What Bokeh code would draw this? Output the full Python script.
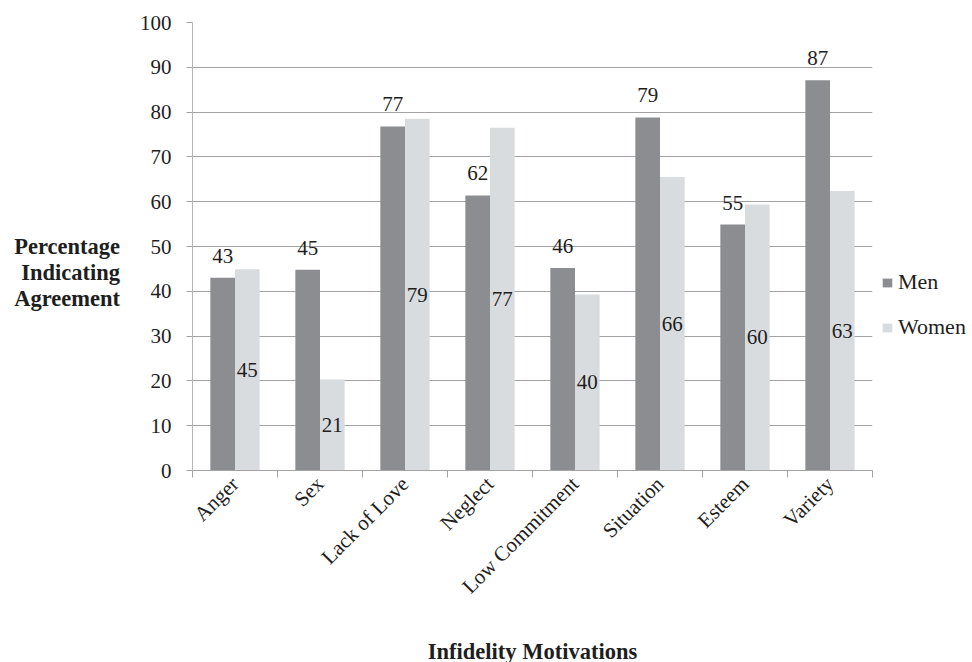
import math
from bokeh.plotting import figure
from bokeh.models import (ColumnDataSource, Range1d, FixedTicker, Legend, LegendItem)
from bokeh.transform import dodge
from bokeh.core.properties import value
from bokeh.embed import file_html
from bokeh.resources import INLINE

# ---- data ----
categories = ["Anger", "Sex", "Lack of Love", "Neglect", "Low Commitment",
              "Situation", "Esteem", "Variety"]
men = [43.0, 44.8, 76.8, 61.4, 45.2, 78.8, 54.9, 87.1]
women = [44.9, 20.3, 78.5, 76.5, 39.3, 65.5, 59.4, 62.4]
men_labels = ["43", "45", "77", "62", "46", "79", "55", "87"]
women_labels = ["45", "21", "79", "77", "40", "66", "60", "63"]
y_ticks = [0, 10, 20, 30, 40, 50, 60, 70, 80, 90, 100]

# ---- style ----
MEN_C = "#8b8d90"
WOMEN_C = "#d9dcdf"
TEXT_C = "#1e1e1e"
GRID_C = "#a3a3a3"
FONT = "Liberation Serif"

xpos = [i + 0.5 for i in range(len(categories))]
src = ColumnDataSource(dict(
    x=xpos, men=men, women=women,
    men_lab=men_labels, women_lab=women_labels,
    women_mid=[w / 2 for w in women],
))

p = figure(frame_width=680, frame_height=448,
           min_border_left=192, min_border_right=100,
           min_border_top=22, min_border_bottom=192,
           x_range=Range1d(0, len(categories)), y_range=Range1d(0, 100),
           output_backend="svg", toolbar_location=None)
p.outline_line_color = None
p.background_fill_color = "white"

r_men = p.vbar(x=dodge("x", -0.145), top="men", width=0.29, source=src,
               fill_color=MEN_C, line_color=None)
r_women = p.vbar(x=dodge("x", 0.145), top="women", width=0.29, source=src,
                 fill_color=WOMEN_C, line_color=None)

p.text(x=dodge("x", -0.145), y="men", text="men_lab", source=src,
       text_font=value(FONT), text_font_size="21px", text_color=TEXT_C,
       text_align="center", text_baseline="alphabetic", y_offset=-22)
p.text(x=dodge("x", 0.145), y="women_mid", text="women_lab", source=src,
       text_font=value(FONT), text_font_size="21px", text_color=TEXT_C,
       text_align="center", text_baseline="middle")

# y axis
yax = p.yaxis[0]
yax.ticker = FixedTicker(ticks=y_ticks)
yax.major_label_text_font = FONT
yax.major_label_text_font_size = "21px"
yax.major_label_text_color = TEXT_C
yax.axis_line_color = "#b5b5b5"
yax.major_tick_line_color = GRID_C
yax.major_tick_out = 6
yax.major_tick_in = 0
yax.minor_tick_line_color = None
yax.major_label_standoff = 15
yax.axis_label = "\n\nPercentage\nIndicating\nAgreement"
yax.axis_label_text_font = FONT
yax.axis_label_text_font_style = "bold"
yax.axis_label_text_font_size = "22.5px"
yax.axis_label_text_line_height = 1.04
yax.axis_label_text_color = TEXT_C
yax.axis_label_text_align = "center"
yax.axis_label_standoff = 17
try:
    yax.axis_label_orientation = "horizontal"
except Exception:
    pass

p.ygrid.grid_line_color = GRID_C
p.ygrid.grid_line_width = 1.2
p.xgrid.visible = False

# x axis
xax = p.xaxis[0]
xax.ticker = FixedTicker(ticks=xpos, minor_ticks=list(range(len(categories) + 1)))
xax.major_label_overrides = {x: c for x, c in zip(xpos, categories)}
xax.major_label_orientation = math.pi / 4
xax.major_label_text_font = FONT
xax.major_label_text_font_size = "21px"
xax.major_label_text_color = TEXT_C
xax.major_tick_line_color = None
xax.major_tick_out = 0
xax.major_tick_in = 0
xax.minor_tick_line_color = GRID_C
xax.minor_tick_out = 7
xax.minor_tick_in = 0
xax.major_label_standoff = 3
xax.axis_line_color = GRID_C
xax.axis_label = "Infidelity Motivations"
xax.axis_label_text_font = FONT
xax.axis_label_text_font_style = "bold"
xax.axis_label_text_font_size = "22.5px"
xax.axis_label_text_color = TEXT_C
xax.axis_label_standoff = 29

legend = Legend(items=[LegendItem(label="Men", renderers=[r_men]),
                       LegendItem(label="Women", renderers=[r_women])],
                location=(9, 130), orientation="vertical",
                label_text_font=FONT, label_text_font_size="22px",
                label_text_color=TEXT_C, glyph_width=12, glyph_height=11,
                label_standoff=5, label_height=24, spacing=19,
                padding=0, margin=0, border_line_color=None,
                background_fill_alpha=0)
p.add_layout(legend, "right")

open("out.html", "w").write(file_html(p, INLINE))
